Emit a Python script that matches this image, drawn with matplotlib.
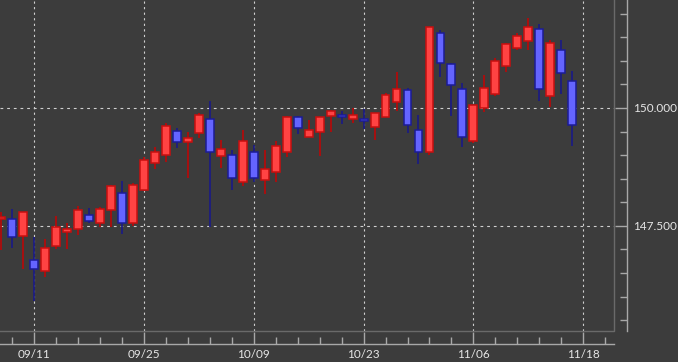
import matplotlib.pyplot as plt
import numpy as np
from matplotlib.ticker import FixedLocator, MultipleLocator, FormatStrFormatter

# daily candles, 09/06 .. 11/17
dates = ['09/06', '09/07', '09/08', '09/11', '09/12', '09/13', '09/14', '09/15',
         '09/18', '09/19', '09/20', '09/21', '09/22', '09/25', '09/26', '09/27',
         '09/28', '09/29', '10/02', '10/03', '10/04', '10/05', '10/06', '10/09',
         '10/10', '10/11', '10/12', '10/13', '10/16', '10/17', '10/18', '10/19',
         '10/20', '10/23', '10/24', '10/25', '10/26', '10/27', '10/30', '10/31',
         '11/01', '11/02', '11/03', '11/06', '11/07', '11/08', '11/09', '11/10',
         '11/13', '11/14', '11/15', '11/16', '11/17']
opens = [147.64, 147.64, 147.29, 146.77, 146.55, 147.07, 147.37, 147.44,
         147.73, 147.57, 147.84, 148.19, 147.56, 148.27, 148.83, 149.00,
         149.51, 149.28, 149.46, 149.76, 148.98, 149.01, 148.44, 149.06,
         148.47, 148.64, 149.06, 149.80, 149.39, 149.50, 149.82, 149.85,
         149.76, 149.77, 149.60, 149.81, 150.13, 150.38, 149.53, 149.06,
         151.60, 150.93, 150.40, 149.29, 150.01, 150.30, 150.88, 151.28,
         151.41, 151.67, 150.25, 151.24, 150.58]
highs = [147.80, 147.86, 147.80, 147.26, 147.22, 147.71, 147.56, 147.93,
         147.87, 147.91, 148.36, 148.45, 148.40, 148.95, 149.18, 149.69,
         149.57, 149.50, 149.89, 150.15, 149.32, 149.11, 149.53, 149.22,
         149.10, 149.31, 149.82, 149.84, 149.75, 149.81, 149.96, 149.94,
         149.99, 149.98, 149.90, 150.31, 150.77, 150.42, 149.85, 151.72,
         151.65, 150.95, 150.52, 150.06, 150.69, 151.05, 151.38, 151.60,
         151.90, 151.78, 151.44, 151.44, 150.78]
lows = [146.99, 147.04, 146.58, 145.90, 146.41, 147.01, 147.01, 147.31,
        147.55, 147.48, 147.48, 147.32, 147.50, 148.23, 148.71, 148.86,
        149.15, 148.52, 149.37, 147.47, 148.73, 148.25, 148.35, 148.44,
        148.17, 148.43, 148.95, 149.45, 149.39, 148.99, 149.50, 149.66,
        149.69, 149.55, 149.32, 149.80, 149.94, 149.46, 148.81, 149.00,
        150.66, 149.84, 149.18, 149.25, 149.91, 150.25, 150.77, 151.23,
        151.23, 150.15, 150.03, 150.29, 149.20]
closes = [147.67, 147.27, 147.79, 146.58, 147.03, 147.47, 147.44, 147.83,
          147.61, 147.86, 148.35, 147.56, 148.37, 148.89, 149.07, 149.62,
          149.28, 149.36, 149.86, 149.06, 149.12, 148.51, 149.29, 148.51,
          148.71, 149.19, 149.81, 149.58, 149.54, 149.80, 149.94, 149.80,
          149.86, 149.72, 149.89, 150.27, 150.40, 149.63, 149.06, 151.71,
          150.95, 150.48, 149.39, 150.06, 150.42, 150.99, 151.35, 151.53,
          151.72, 150.40, 151.38, 150.74, 149.63]

tick_labels = ['09/11', '09/25', '10/09', '10/23', '11/06', '11/18']
tick_pos = [3, 13, 23, 33, 43, 53]

bg = '#3c3c3c'
upFill, upEdge, upWick = '#ff4343', '#c80f0f', '#b00c0c'
dnFill, dnEdge, dnWick = '#6464ff', '#1c1c96', '#1c1c80'

opens = np.array(opens)
closes = np.array(closes)
x = np.arange(len(dates))
up = closes >= opens

#Create figure
fig = plt.figure(figsize=(6.78, 3.62), dpi=100, facecolor=bg)
ax = fig.add_axes([0, 31/362, 614/678, 331/362])
ax.set_facecolor(bg)

#grid
for v in [147.5, 150.0]:
    ax.axhline(v, color='#d0d0d0', lw=0.8, ls=(0, (2.5, 3.5)), zorder=1)
for t in tick_pos:
    ax.axvline(t, color='#d0d0d0', lw=0.8, ls=(0, (2, 3)), zorder=1)

#wicks
ax.vlines(x, lows, highs, colors=np.where(up, upWick, dnWick), lw=1.3, zorder=2)

#bodies
bottoms = np.minimum(opens, closes)
heights = np.maximum(np.abs(closes - opens), 0.04)
ax.bar(x, heights, bottom=bottoms, width=0.72,
       color=np.where(up, upFill, dnFill), edgecolor=np.where(up, upEdge, dnEdge),
       lw=1.1, zorder=3)

ax.set_xlim(-0.1, 55.8)
ax.set_ylim(145.27, 152.29)

#axes style
ax.spines['top'].set_visible(False)
ax.spines['left'].set_visible(False)
for s in ['bottom', 'right']:
    ax.spines[s].set_position(('outward', 9))
    ax.spines[s].set_color('#a8a8a8')
    ax.spines[s].set_linewidth(1.0)
ax.plot([0, 1, 1], [0, 0, 1], transform=ax.transAxes, color='#6a6a6a',
        lw=1.0, clip_on=False, zorder=5)

ax.yaxis.tick_right()
ax.xaxis.set_major_locator(FixedLocator(tick_pos))
ax.set_xticklabels(tick_labels)
ax.xaxis.set_minor_locator(FixedLocator(np.arange(1, 56, 2)))
ax.yaxis.set_major_locator(FixedLocator([147.5, 150.0]))
ax.yaxis.set_major_formatter(FormatStrFormatter('%.3f'))
ax.yaxis.set_minor_locator(MultipleLocator(0.5))

ax.tick_params(which='both', direction='in', color='#a8a8a8', width=1.0,
               labelcolor='#e6e6e6', labelsize=8.5)
ax.tick_params(which='major', length=9)
ax.tick_params(which='minor', length=5)
ax.tick_params(axis='x', pad=4)
ax.tick_params(axis='y', pad=5)
for lab in ax.get_xticklabels() + ax.get_yticklabels():
    lab.set_family('Lato')

fig.savefig('out.png', dpi=100, facecolor=bg)
